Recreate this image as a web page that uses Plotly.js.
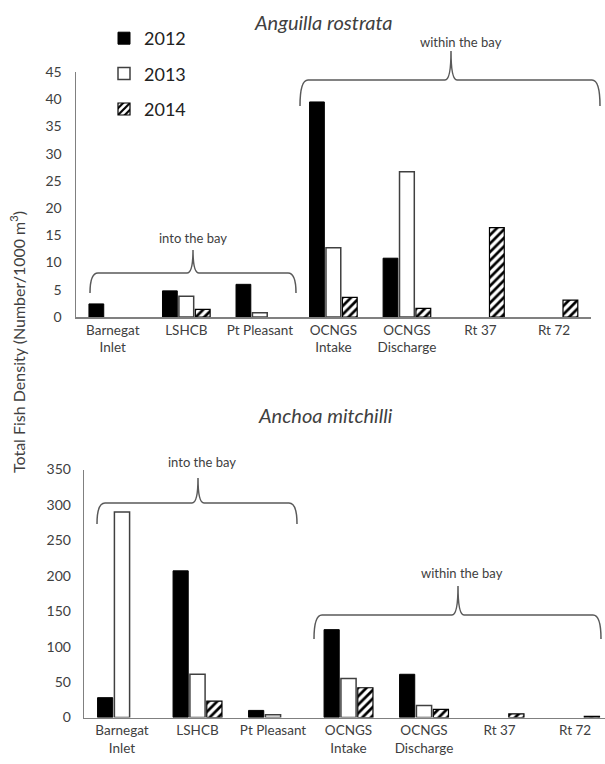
<!DOCTYPE html>
<html>
<head>
<meta charset="utf-8">
<script src="https://cdn.plot.ly/plotly-3.0.1.min.js"></script>
<style>
html,body{margin:0;padding:0;background:#fff;}
#chart{width:605px;height:764px;}
</style>
</head>
<body>
<div id="chart"></div>
<script>
// ---- data ----
const categories = ["Barnegat<br>Inlet", "LSHCB", "Pt Pleasant", "OCNGS<br>Intake", "OCNGS<br>Discharge", "Rt 37", "Rt 72"];
const years = ["2012", "2013", "2014"];
// Anguilla rostrata
const eel2012 = [2.4, 4.8, 6.0, 39.5, 10.8, null, null];
const eel2013 = [null, 3.8, 0.8, 12.7, 26.7, null, null];
const eel2014 = [null, 1.4, null, 3.6, 1.6, 16.4, 3.1];
// Anchoa mitchilli
const anc2012 = [28, 207, 10, 124, 61, null, null];
const anc2013 = [290, 61, 4, 55, 17, null, null];
const anc2014 = [null, 23, null, 42, 11.5, 5, 1.5];
const topTicks = [0, 5, 10, 15, 20, 25, 30, 35, 40, 45];
const botTicks = [0, 50, 100, 150, 200, 250, 300, 350];

// ---- helpers ----
const W = 605, H = 764;
const px = x => x / W;
const py = y => 1 - y / H;
const FONT = "Lato, 'Liberation Sans', sans-serif";
const TXT = "#404040";

const styles = [
  {color: "#000000", line: {color: "#000000", width: 1}},
  {color: "#ffffff", line: {color: "#404040", width: 1.5}},
  {color: "#ffffff", line: {color: "#000000", width: 1.2},
   pattern: {shape: "/", fgcolor: "#000000", bgcolor: "#ffffff", size: 6, solidity: 0.45}}
];

function bars(vals, i, xa, ya, showleg) {
  return {
    type: "bar", x: categories, y: vals, name: years[i],
    xaxis: xa, yaxis: ya, marker: styles[i],
    showlegend: showleg, legendgroup: "g" + i, hoverinfo: "x+y"
  };
}

const traces = [
  bars(eel2012, 0, "x", "y", true),
  bars(eel2013, 1, "x", "y", true),
  bars(eel2014, 2, "x", "y", true),
  bars(anc2012, 0, "x2", "y2", false),
  bars(anc2013, 1, "x2", "y2", false),
  bars(anc2014, 2, "x2", "y2", false)
];

function brace(x0, x1, xm, yb, yh, yt) {
  const r = 8, r2 = 6;
  return "M " + px(x0) + "," + py(yb) +
    " Q " + px(x0) + "," + py(yh) + " " + px(x0 + r) + "," + py(yh) +
    " L " + px(xm - r2) + "," + py(yh) +
    " Q " + px(xm) + "," + py(yh) + " " + px(xm) + "," + py(yt) +
    " Q " + px(xm) + "," + py(yh) + " " + px(xm + r2) + "," + py(yh) +
    " L " + px(x1 - r) + "," + py(yh) +
    " Q " + px(x1) + "," + py(yh) + " " + px(x1) + "," + py(yb);
}
const braceLine = {color: "#595959", width: 1.5};
const shapes = [
  {type: "path", xref: "paper", yref: "paper", path: brace(90, 296, 193, 293, 273, 250), line: braceLine},
  {type: "path", xref: "paper", yref: "paper", path: brace(300, 600, 451, 106, 80, 51), line: braceLine},
  {type: "path", xref: "paper", yref: "paper", path: brace(97, 297, 198, 524, 503, 478), line: braceLine},
  {type: "path", xref: "paper", yref: "paper", path: brace(314, 601, 458, 639, 615, 586), line: braceLine}
];

function note(text, x, y, size, extra) {
  return Object.assign({
    text: text, xref: "paper", yref: "paper", x: px(x), y: py(y),
    xanchor: "center", yanchor: "middle", showarrow: false,
    font: {family: FONT, size: size, color: TXT}
  }, extra || {});
}
const annotations = [
  note("<i>Anguilla rostrata</i>", 323, 22, 20),
  note("<i>Anchoa mitchilli</i>", 325, 415, 20),
  note("into the bay", 193, 238, 13),
  note("within the bay", 461, 42, 13),
  note("into the bay", 202, 462, 13),
  note("within the bay", 462, 573, 13),
  note("Total Fish Density (Number/1000 m<sup>3</sup>)", 17, 342, 16, {textangle: -90})
];

const axisLine = {showline: true, linecolor: "#808080", linewidth: 1.5, showgrid: false, zeroline: false, ticks: ""};

const layout = {
  width: W, height: H,
  margin: {l: 0, r: 0, t: 0, b: 0},
  paper_bgcolor: "#fff", plot_bgcolor: "rgba(0,0,0,0)",
  barmode: "group", bargap: 0.33, bargroupgap: 0.1,
  font: {family: FONT, color: TXT, size: 13},
  showlegend: true,
  legend: {x: px(104), y: py(20), xanchor: "left", yanchor: "top",
    font: {family: FONT, size: 18, color: "#222"}, traceorder: "grouped",
    tracegroupgap: 9, bgcolor: "rgba(0,0,0,0)", itemwidth: 30},
  xaxis: Object.assign({}, axisLine, {domain: [px(76), px(590.75)], anchor: "y",
    type: "category", range: [-0.5, 6.5], tickfont: {family: FONT, size: 13.5, color: TXT}}),
  yaxis: Object.assign({}, axisLine, {domain: [py(317), py(72)], anchor: "x",
    range: [0, 45], tickvals: topTicks, ticklabelstandoff: 10,
    tickfont: {family: FONT, size: 14, color: TXT}}),
  xaxis2: Object.assign({}, axisLine, {domain: [px(84.25), 1], anchor: "y2",
    type: "category", range: [-0.5, 6.397], tickfont: {family: FONT, size: 13.5, color: TXT}}),
  yaxis2: Object.assign({}, axisLine, {domain: [py(717.5), py(469.5)], anchor: "x2",
    range: [0, 350], tickvals: botTicks, ticklabelstandoff: 9,
    tickfont: {family: FONT, size: 14, color: TXT}}),
  shapes: shapes,
  annotations: annotations
};

Plotly.newPlot("chart", traces, layout, {displayModeBar: false, staticPlot: true});
</script>
</body>
</html>
